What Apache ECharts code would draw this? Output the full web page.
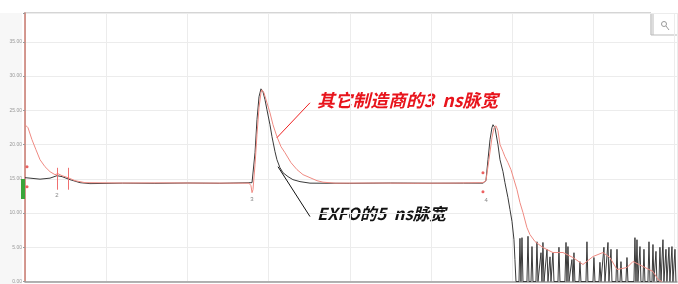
<!DOCTYPE html>
<html><head><meta charset="utf-8">
<script src="https://cdn.jsdelivr.net/npm/echarts@6/dist/echarts.min.js"></script>
<style>html,body{margin:0;padding:0;background:#fff}#c{width:678px;height:284px}</style>
</head><body><div id="c"></div>
<script>
// distance (arbitrary km units) and level (dB)
const exfoDist = [0,0.062,0.185,0.308,0.394,0.456,0.554,0.677,0.8,1.2,1.6,2.0,2.4,2.796,2.808,2.833,2.857,2.882,2.906,2.931,2.956,2.980,3.017,3.042,3.079,3.103,3.140,3.177,3.239,3.300,3.387,3.510,4.0,4.5,5.0,5.4,5.640,5.677,5.702,5.727,5.751,5.764,5.788,5.825,5.850,5.887,5.911,5.948,5.973,5.998,6.022,6.034,6.047,
6.084,6.096,6.108,6.121,6.133,6.182,6.195,6.207,6.232,6.244,6.256,6.293,6.305,6.318,6.342,6.355,6.367,6.379,6.392,6.416,6.429,6.441,6.453,6.466,6.478,6.490,6.502,6.515,6.564,6.576,6.589,6.650,6.663,6.675,6.687,6.700,6.724,6.736,6.749,6.761,6.773,6.823,6.835,6.847,6.909,6.921,6.933,6.995,7.007,7.020,7.069,7.081,7.094,7.118,7.130,7.143,7.167,7.180,7.192,7.204,7.217,7.229,7.278,7.291,7.303,7.328,7.340,7.352,7.401,7.414,7.426,7.500,7.512,7.525,7.537,7.549,7.562,7.574,7.586,7.611,7.623,7.635,7.672,7.685,7.697,7.722,7.734,7.746,7.759,7.771,7.783,7.808,7.820,7.833,7.845,7.857,7.869,7.882,7.894,7.906,7.919,7.931,7.943,7.956,7.968,7.980,7.993,8.005,8.017];
const exfoDb = [15.16,15.09,14.94,15.09,15.45,15.31,14.87,14.43,14.29,14.36,14.33,14.38,14.34,14.43,14.58,18.80,23.62,26.97,28.13,27.70,26.53,25.07,22.89,21.14,18.95,17.78,16.62,15.89,15.31,14.87,14.58,14.36,14.33,14.38,14.35,14.36,14.36,14.72,17.78,20.70,22.45,22.89,22.45,19.97,17.78,16.03,14.43,12.24,10.50,8.75,6.12,3.21,0,
0,6.3,0,6.4,0,0,6.6,0,0,5.1,0,0,5.8,0,0,4.2,0,5.7,0,0,4.7,0,0,3.6,0,0,4.2,0,0,5.0,0,0,5.7,0,5.1,0,0,3.2,0,4.2,0,0,2.9,0,0,5.8,0,0,3.5,0,0,2.8,0,0,5.0,0,0,5.7,0,0,4.7,0,0,4.7,0,0,2.9,0,0,3.5,0,0,6.4,0,6.1,0,0,5.1,0,0,4.7,0,0,5.8,0,0,5.4,0,0,4.4,0,0,5.0,0,0,6.1,0,0,4.7,0,0,5.0,0,0,5.1,0,0,4.7,0];
const otherDist = [0,0.037,0.086,0.135,0.185,0.246,0.308,0.369,0.406,0.456,0.530,0.616,0.739,1.2,1.7,2.2,2.759,2.783,2.796,2.808,2.833,2.857,2.882,2.906,2.918,2.943,2.980,3.017,3.054,3.103,3.153,3.202,3.276,3.350,3.424,3.510,3.596,3.670,3.818,4.3,4.8,5.3,5.640,5.677,5.714,5.751,5.776,5.801,5.825,5.850,5.887,5.911,5.948,5.985,6.022,6.059,6.096,6.133,6.182,6.219,6.281,6.379,6.502,6.626,6.749,6.872,6.995,7.118,7.204,7.291,7.414,7.488,7.611,7.734,7.796,7.845];
const otherDb = [22.89,22.45,20.70,19.24,17.78,16.76,16.03,15.60,15.74,15.45,15.16,14.72,14.43,14.38,14.40,14.37,14.36,13.99,12.97,13.41,17.06,21.43,25.36,27.55,27.99,27.55,26.09,24.64,22.89,21.14,19.68,18.80,17.35,16.33,15.60,15.16,14.72,14.50,14.36,14.38,14.35,14.37,14.43,14.72,17.78,20.99,22.45,22.74,22.01,20.0,18.95,18.22,17.35,16.33,14.87,13.41,11.52,10.06,7.87,6.85,5.83,4.96,4.23,4.23,3.50,2.48,3.64,4.23,3.50,1.75,2.04,2.92,2.19,1.46,0.29,0];
const yTicks = [0,5,10,15,20,25,30,35];
const dotDist = [0.025,0.025,5.640,5.640];
const dotDb = [16.76,13.85,15.89,13.12];
const eventLabels = ['2','3','4'];
const eventDist = [0.394,2.796,5.680];
const eventLabelDb = [12.6,12.0,11.9];
const cursorDist = [0.394,0.530];
const cursorLow = 13.4, cursorHigh = 16.6;
const redNote = '其它制造商的3  ns脉宽';
const blackNote = 'EXFO的5  ns脉宽';
const redLine = [[3.510,26.09],[3.103,21.0]];
const blackLine = [[3.116,16.76],[3.510,9.48]];

const chart = echarts.init(document.getElementById('c'));
const zip = (a,b)=>a.map((v,i)=>[v,b[i]]);
chart.setOption({
  animation:false,
  grid:{left:25,right:1,top:13,bottom:2},
  xAxis:{type:'value',min:0,max:8.03,interval:1,
    axisLine:{show:true,onZero:false,lineStyle:{color:'#9a9a9a',width:1.5}},
    axisTick:{show:false},axisLabel:{show:false},
    splitLine:{show:true,lineStyle:{color:'#ececec',width:1}}},
  yAxis:{type:'value',min:0,max:39.2,interval:5,
    axisLine:{show:true,lineStyle:{color:'#c9786e',width:1.5}},
    axisTick:{show:true,length:2,lineStyle:{color:'#999'}},
    axisLabel:{show:true,fontSize:5,color:'#999',margin:3,formatter:v=>yTicks.includes(v)?v.toFixed(2):''},
    splitLine:{show:true,lineStyle:{color:'#ececec',width:1}}},
  series:[
    {type:'line',data:zip(exfoDist,exfoDb),showSymbol:false,lineStyle:{color:'#3a3a3a',width:1},z:3,
      markLine:{silent:true,symbol:'none',label:{show:false},
        lineStyle:{color:'#111',width:1,type:'solid'},
        data:[[{coord:blackLine[0]},{coord:blackLine[1]}]]}},
    {type:'line',data:zip(otherDist,otherDb),showSymbol:false,lineStyle:{color:'#ef8a82',width:1},z:4,
      markLine:{silent:true,symbol:'none',label:{show:false},
        lineStyle:{color:'#ee2222',width:1,type:'solid'},
        data:[[{coord:redLine[0]},{coord:redLine[1]}],
          ...cursorDist.map(d=>[{coord:[d,cursorLow],lineStyle:{color:'#f07070'}},{coord:[d,cursorHigh]}])]}},
    {type:'scatter',data:zip(dotDist,dotDb),symbol:'circle',symbolSize:3,itemStyle:{color:'#e83a3a'},z:5},
    {type:'scatter',data:eventDist.map((d,i)=>({value:[d,eventLabelDb[i]],label:{formatter:eventLabels[i]}})),
      symbolSize:0,label:{show:true,position:'inside',fontSize:6,color:'#666'},z:5}
  ],
  graphic:[
    {type:'rect',shape:{x:0,y:13,width:22,height:271},style:{fill:'#f7f7f7'},z:-1},
    {type:'line',shape:{x1:24,y1:13,x2:651,y2:13},style:{stroke:'#aaa',lineWidth:1}},
    {type:'line',shape:{x1:651,y1:13,x2:651,y2:35},style:{stroke:'#aaa',lineWidth:1}},
    {type:'line',shape:{x1:653,y1:13,x2:653,y2:35},style:{stroke:'#bbb',lineWidth:1}},
    {type:'line',shape:{x1:651,y1:35,x2:678,y2:35},style:{stroke:'#bbb',lineWidth:1}},
    {type:'circle',shape:{cx:664,cy:24,r:2.5},style:{fill:'none',stroke:'#999',lineWidth:1}},
    {type:'line',shape:{x1:666,y1:26,x2:669,y2:30},style:{stroke:'#999',lineWidth:1}},
    {type:'rect',shape:{x:21,y:179,width:4,height:20},style:{fill:'#3aa53a'},z:10},
    {type:'text',left:317,top:91,style:{text:redNote,fill:'#e8141c',font:'italic bold 17.8px "Noto Sans CJK SC"'}},
    {type:'text',left:317,top:205,style:{text:blackNote,fill:'#111',font:'italic bold 16.6px "Noto Sans CJK SC"'}}
  ]
});
</script></body></html>
